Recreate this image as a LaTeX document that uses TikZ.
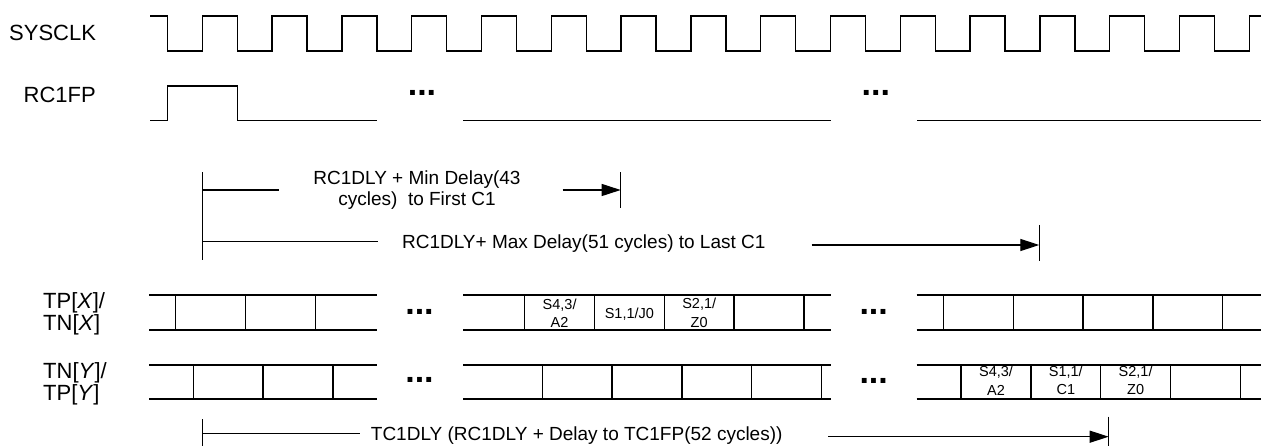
\documentclass[tikz,border=0pt]{standalone}
\usepackage{fontspec}
\setmainfont{Liberation Sans}
\usetikzlibrary{arrows.meta}
\begin{document}
\begin{tikzpicture}[x=1pt,y=-1pt,
  wave/.style={line width=1.3pt},
  bus/.style={line width=1.4pt},
  dim/.style={line width=1.2pt},
  dimarrow/.style={dim,-{Triangle[length=19pt,width=12pt]}},
  sig/.style={font=\fontsize{22}{20}\selectfont, inner sep=0pt, align=left},
  note/.style={font=\fontsize{19}{20.5}\selectfont, inner sep=0pt, align=center},
  cell/.style={font=\fontsize{14.5}{18.5}\selectfont, inner sep=0pt, align=center},
  gap/.style={font=\fontsize{34}{34}\selectfont\bfseries, inner sep=0pt, anchor=base},
]
\useasboundingbox (0,0) rectangle (1261,446);

% ---------- signal names ----------
\node[sig, anchor=base west] (sysclk) at (9,40.7) {SYSCLK};
\node[sig, anchor=base west] (rcfp) at (23.5,102.7) {RC1FP};
\node[sig, anchor=west] (tpx) at (43,314) {TP[\textit{X}]/\\TN[\textit{X}]};
\node[sig, anchor=west] (tny) at (43,384) {TN[\textit{Y}]/\\TP[\textit{Y}]};

% ---------- SYSCLK ----------
\draw[wave] (150,16)
  \foreach \k in {0,...,15}{
    -- ({167.5+69.8*\k},16) -- ({167.5+69.8*\k},51)
    -- ({202.3+69.8*\k},51) -- ({202.3+69.8*\k},16)}
  -- (1261,16);

% ---------- RC1FP ----------
\draw[wave] (150,120.3) -- (167.5,120.3) -- (167.5,86) -- (237.3,86)
  -- (237.3,120.3) -- (376.7,120.3);
\draw[wave] (463.3,120.3) -- (831,120.3);
\draw[wave] (917.3,120.3) -- (1261,120.3);
\node[gap] (g1) at (422,95.7) {...};
\node[gap] (g2) at (875.8,95.7) {...};

% ---------- delay annotations ----------
\coordinate (bartop) at (202.3,172.3);
\coordinate (barbot) at (202.3,260);
\draw[dim] (bartop) -- (barbot);

\node[note] (mintxt) at (417,190) {RC1DLY + Min Delay(43\\cycles)\ \ to First C1};
\coordinate (minL) at (202.3,190);
\coordinate (minLe) at (279,190);
\coordinate (minA) at (562.7,190);
\coordinate (minT) at (620.7,190);
\coordinate (mintickT) at (620.7,172.3);
\coordinate (mintickB) at (620.7,208.5);
\draw[dim] (minL) -- (minLe);
\draw[dimarrow] (minA) -- (minT);
\draw[dim] (mintickT) -- (mintickB);

\node[note, anchor=base] (maxtxt) at (583.8,248.5) {RC1DLY+ Max Delay(51 cycles) to Last C1};
\coordinate (maxL) at (202.3,241.5);
\coordinate (maxLe) at (378.3,241.5);
\coordinate (maxA) at (811.7,245);
\coordinate (maxT) at (1039.3,245);
\coordinate (maxtickT) at (1039.3,225);
\coordinate (maxtickB) at (1039.3,261);
\draw[dim] (maxL) -- (maxLe);
\draw[dimarrow] (maxA) -- (maxT);
\draw[dim] (maxtickT) -- (maxtickB);

% ---------- TP[X]/TN[X] bus ----------
\foreach \a/\b in {149/376.7, 463.3/830.7, 916.7/1261}{
  \draw[bus] (\a,295) -- (\b,295);
  \draw[bus] (\a,330) -- (\b,330);
}
\foreach \k in {0,1,2,5,6,7,8,9,11,12,13,14,15}
  \draw[bus] ({175.7+69.8*\k},295) -- ({175.7+69.8*\k},330);
\node[cell] (x1) at (559.6,313) {S4,3/\\A2};
\node[cell] (x2) at (629.4,314.5) {S1,1/J0};
\node[cell] (x3) at (699.2,313) {S2,1/\\Z0};
\node[gap] (g3) at (419.5,314.3) {...};
\node[gap] (g4) at (873.7,314.3) {...};

% ---------- TN[Y]/TP[Y] bus ----------
\foreach \a/\b in {149/376.7, 463.3/830.7, 916.7/1261}{
  \draw[bus] (\a,365) -- (\b,365);
  \draw[bus] (\a,399) -- (\b,399);
}
\foreach \k in {0,1,2,5,6,7,8,9,11,12,13,14,15}
  \draw[bus] ({193.3+69.8*\k},365) -- ({193.3+69.8*\k},399);
\node[cell] (y1) at (996,380.5) {S4,3/\\A2};
\node[cell] (y2) at (1065.8,380.5) {S1,1/\\C1};
\node[cell] (y3) at (1135.6,380.5) {S2,1/\\Z0};
\node[gap] (g5) at (419.5,382.7) {...};
\node[gap] (g6) at (873.7,383) {...};

% ---------- TC1DLY annotation ----------
\node[note, anchor=base] (tctxt) at (576.7,440) {TC1DLY (RC1DLY + Delay to TC1FP(52 cycles))};
\coordinate (tcbarT) at (202.3,419);
\coordinate (tcbarB) at (202.3,446);
\coordinate (tcL) at (202.3,433.3);
\coordinate (tcLe) at (360,433.3);
\coordinate (tcA) at (828.3,436.7);
\coordinate (tcT) at (1108.7,436.7);
\coordinate (tctickT) at (1108.7,416.5);
\coordinate (tctickB) at (1108.7,446);
\draw[dim] (tcbarT) -- (tcbarB);
\draw[dim] (tcL) -- (tcLe);
\draw[dimarrow] (tcA) -- (tcT);
\draw[dim] (tctickT) -- (tctickB);
\end{tikzpicture}
\end{document}
